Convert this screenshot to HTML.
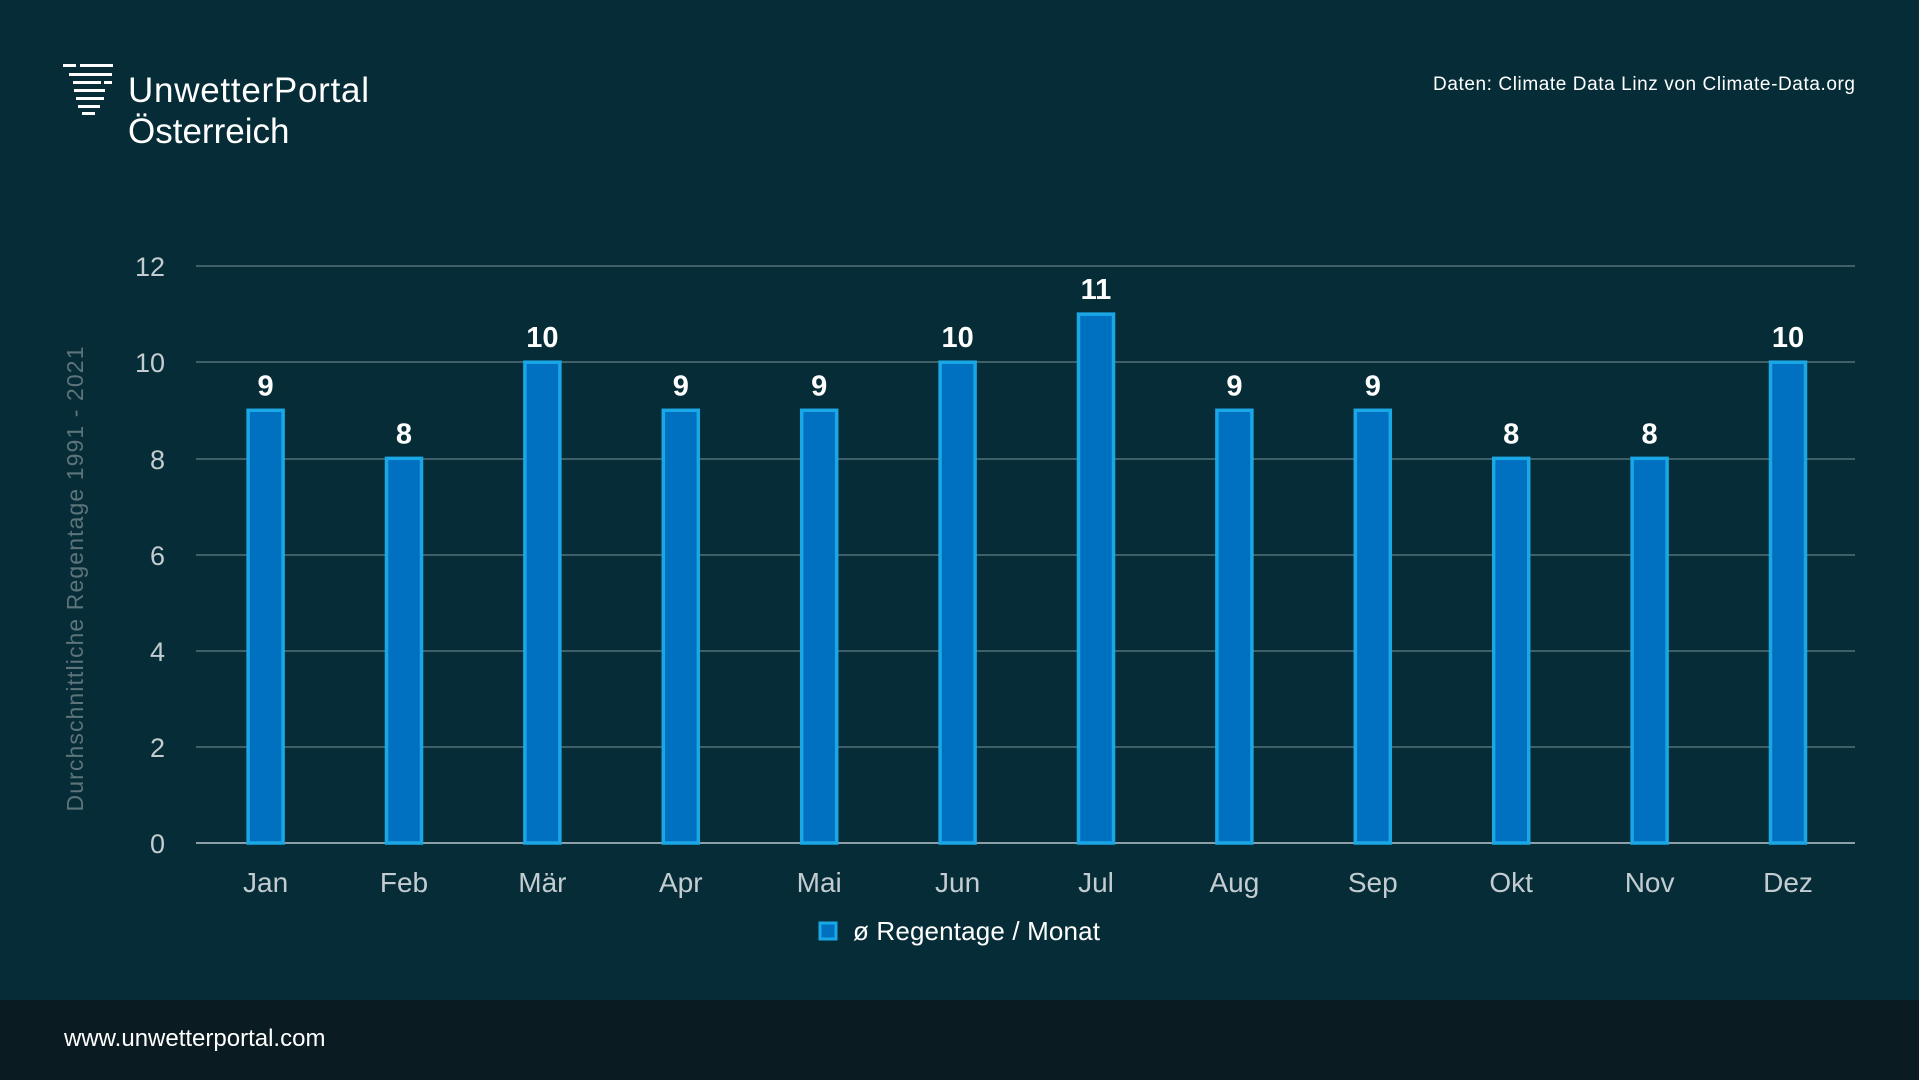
<!DOCTYPE html>
<html><head><meta charset="utf-8"><style>
body{margin:0;width:1919px;height:1080px;background:#062d37;font-family:"Liberation Sans",sans-serif;position:relative;overflow:hidden;color:#fff}
.footer{position:absolute;left:0;top:1000px;width:1919px;height:80px;background:#0a1b22}
</style></head><body>
<svg width="1919" height="1080" style="position:absolute;left:0;top:0" font-family="Liberation Sans, sans-serif">
<g fill="#fff">
<rect x="63" y="64" width="13" height="3"/><rect x="80" y="64" width="33" height="3"/>
<rect x="69" y="73" width="43" height="3"/>
<rect x="73" y="81" width="28" height="3"/><rect x="104" y="81" width="8" height="3"/>
<rect x="74" y="89" width="31" height="3"/>
<rect x="76" y="97" width="28" height="3"/>
<rect x="78" y="105" width="22" height="3"/>
<rect x="82" y="112" width="13" height="3"/>
</g>
<text x="128" y="102" font-size="35" fill="#fff" textLength="241">UnwetterPortal</text>
<text x="128" y="143" font-size="35" fill="#fff">Österreich</text>
<text x="1855" y="90" font-size="19" fill="#fff" text-anchor="end" textLength="422">Daten: Climate Data Linz von Climate-Data.org</text>
<g stroke="#3f6068" stroke-width="2">
<line x1="196" x2="1855" y1="266" y2="266"/><line x1="196" x2="1855" y1="362" y2="362"/>
<line x1="196" x2="1855" y1="459" y2="459"/><line x1="196" x2="1855" y1="555" y2="555"/>
<line x1="196" x2="1855" y1="651" y2="651"/><line x1="196" x2="1855" y1="747" y2="747"/>
</g>
<line x1="196" x2="1855" y1="843" y2="843" stroke="#8aa0a6" stroke-width="2"/>
<g font-size="27" fill="#c3ccd0" text-anchor="end">
<text x="165" y="276">12</text><text x="165" y="372">10</text><text x="165" y="469">8</text>
<text x="165" y="565">6</text><text x="165" y="661">4</text><text x="165" y="757">2</text><text x="165" y="853">0</text>
</g>
<text transform="translate(83,579) rotate(-90)" font-size="23" fill="#5d747a" text-anchor="middle" textLength="465">Durchschnittliche Regentage 1991 - 2021</text>
<g id="bars"></g>
<rect x="820" y="923" width="16" height="16" fill="#0070c0" stroke="#1aa7e6" stroke-width="3"/>
<text x="853" y="940" font-size="26" fill="#fff" textLength="247">ø Regentage / Monat</text>
</svg>
<div class="footer"></div>
<div style="position:absolute;left:64px;top:1025px;font-size:24px;color:#fff">www.unwetterportal.com</div>
<script>
var v=[9,8,10,9,9,10,11,9,9,8,8,10],m=["Jan","Feb","Mär","Apr","Mai","Jun","Jul","Aug","Sep","Okt","Nov","Dez"],s="";
for(var i=0;i<12;i++){var cx=265.6+i*138.4,y=843-v[i]*48.08;
s+='<rect x="'+(cx-17.5)+'" y="'+y+'" width="35" height="'+(843-y)+'" fill="#0070c0" stroke="#1aa7e6" stroke-width="3.5"/>';
s+='<text x="'+cx+'" y="'+(y-15)+'" font-size="29" font-weight="bold" fill="#fff" text-anchor="middle">'+v[i]+'</text>';
s+='<text x="'+cx+'" y="892" font-size="28" fill="#c3ccd0" text-anchor="middle">'+m[i]+'</text>';}
document.getElementById("bars").innerHTML=s;
</script>
</body></html>
